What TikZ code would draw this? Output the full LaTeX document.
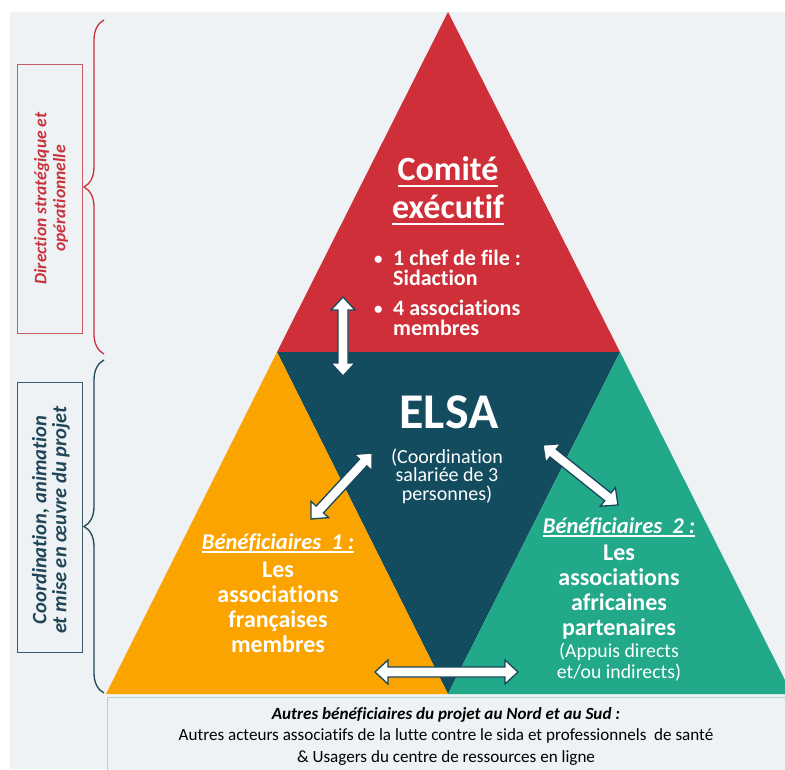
\documentclass[tikz,border=0pt]{standalone}
\usepackage{fontspec}
\setmainfont{Carlito}[Ligatures=NoCommon]
\usetikzlibrary{calc,decorations.pathreplacing}
\definecolor{bgc}{HTML}{EEF2F4}
\definecolor{cred}{HTML}{CF2F38}
\definecolor{corange}{HTML}{FBA400}
\definecolor{cdark}{HTML}{134B5F}
\definecolor{cgreen}{HTML}{21A98A}
\definecolor{labred}{HTML}{C8323B}
\definecolor{labnavy}{HTML}{1F4658}
\definecolor{boxred}{HTML}{CC5C63}
\definecolor{boxnavy}{HTML}{3C5A6A}
\definecolor{boxteal}{HTML}{A6D6CE}
\definecolor{arrline}{HTML}{16475A}
\newsavebox\ulbox
\newcommand\ulined[3]{\sbox\ulbox{#3}\rlap{\rule[-#1]{\wd\ulbox}{#2}}\usebox\ulbox}
\newcommand\sm[1]{\smash{#1}}
\newcommand\bul{\makebox[19pt][l]{\raisebox{1pt}{\fontsize{17}{17}\selectfont •}}}
\newcommand\blockarrow[2]{%
  \coordinate (#1#2ha) at ($(#1)!13pt!(#2)$);
  \coordinate (#1#2hb) at ($(#2)!13pt!(#1)$);
  \draw[arrowsty] (#1) -- ($(#1#2ha)!12pt!90:(#2)$) -- ($(#1#2ha)!5pt!90:(#2)$)
    -- ($(#1#2hb)!5pt!-90:(#1)$) -- ($(#1#2hb)!12pt!-90:(#1)$) -- (#2)
    -- ($(#1#2hb)!12pt!90:(#1)$) -- ($(#1#2hb)!5pt!90:(#1)$)
    -- ($(#1#2ha)!5pt!-90:(#2)$) -- ($(#1#2ha)!12pt!-90:(#2)$) -- cycle;}
\tikzset{
  arrowsty/.style={fill=white, draw=arrline, line width=1.3pt, line join=miter},
  txt/.style={inner sep=0pt, anchor=base, text=white},
  labbox/.style={line width=1pt},
  bracesty/.style={decorate, decoration={brace, amplitude=20pt}, line width=1.3pt},
}
\begin{document}
\begin{tikzpicture}[x=1pt,y=-1pt]
\useasboundingbox (0,0) rectangle (785,769);
\fill[white] (0,0) rectangle (785,769);
\fill[bgc] (10,12) rectangle (785,769);
% vertices
\coordinate (apex) at (448,12);
\coordinate (ml) at (277,352);
\coordinate (mr) at (620,352);
\coordinate (bl) at (106,694);
\coordinate (bm) at (448,694);
\coordinate (br) at (792,694);
\begin{scope}
\clip (0,0) rectangle (785,769);
\fill[cred] (apex) -- (ml) -- (mr) -- cycle;
\fill[cdark] (ml) -- (mr) -- (bm) -- cycle;
\fill[corange] (ml) -- (bl) -- (bm) -- cycle;
\fill[cgreen] (mr) -- (bm) -- (br) -- cycle;
\draw[boxteal, line width=1pt, fill=bgc] (107,697) rectangle (800,800);
\end{scope}
% left labels
\draw[boxred, labbox] (17,64) rectangle (82,333);
\node[rotate=90, text=labred, align=center, font=\bfseries\itshape\fontsize{17.5}{19}\selectfont] (labA) at (51,198.5) {Direction stratégique et\\opérationnelle};
\draw[boxnavy, labbox] (17,382) rectangle (82,652);
\node[rotate=90, text=labnavy, align=center, font=\bfseries\itshape\fontsize{20.5}{20}\selectfont] (labB) at (51,520) {Coordination, animation\\et mise en œuvre du projet};
\coordinate (bAtop) at (104,20);
\coordinate (bAbot) at (104,354);
\coordinate (bBtop) at (104,360);
\coordinate (bBbot) at (104,693);
\draw[bracesty, labred] (bAbot) -- (bAtop);
\draw[bracesty, labnavy] (bBbot) -- (bBtop);
% top triangle text
\node[txt, font=\bfseries\fontsize{34}{38}\selectfont] (comite) at (448,180)
  {\begin{tabular}[t]{@{}c@{}}\sm{\ulined{7pt}{2.2pt}{Comité}}\\\sm{\ulined{7pt}{2.2pt}{exécutif}}\end{tabular}};
\node[txt, anchor=base west, font=\bfseries\fontsize{22}{20}\selectfont] (bullets) at (374,265)
  {\begin{tabular}[t]{@{}l@{}l@{}}\bul&\sm{1 chef de file :}\\&\sm{Sidaction}\\[10pt]\bul&\sm{4 associations}\\&\sm{membres}\end{tabular}};
% ELSA
\node[txt, font=\bfseries\fontsize{50}{50}\selectfont] (elsa) at (449,428) {ELSA};
\node[txt, font=\fontsize{20}{18.5}\selectfont] (elsasub) at (447,463)
  {\begin{tabular}[t]{@{}c@{}}\sm{(Coordination}\\\sm{salariée de 3}\\\sm{personnes)}\end{tabular}};
% Beneficiaires 1
\node[txt, font=\bfseries\itshape\fontsize{22.5}{22}\selectfont] (benA) at (278,549) {\ulined{3.5pt}{1.5pt}{Bénéficiaires\ \ 1 :}};
\node[txt, font=\bfseries\fontsize{24}{25}\selectfont] (benAtxt) at (278,577)
  {\begin{tabular}[t]{@{}c@{}}\sm{Les}\\\sm{associations}\\\sm{françaises}\\\sm{membres}\end{tabular}};
% Beneficiaires 2
\node[txt, font=\bfseries\itshape\fontsize{22.5}{22}\selectfont] (benB) at (619,533) {\ulined{3.5pt}{1.5pt}{Bénéficiaires\ \ 2 :}};
\node[txt, font=\bfseries\fontsize{24}{25}\selectfont] (benBtxt) at (619,560)
  {\begin{tabular}[t]{@{}c@{}}\sm{Les}\\\sm{associations}\\\sm{africaines}\\\sm{partenaires}\end{tabular}};
\node[txt, font=\fontsize{19.8}{21}\selectfont] (benBsub) at (619,657)
  {\begin{tabular}[t]{@{}c@{}}\sm{(Appuis directs}\\\sm{et/ou indirects)}\end{tabular}};
% bottom box text
\node[txt, text=black, font=\fontsize{17.1}{21.5}\selectfont] (autres) at (446,719)
  {\begin{tabular}[t]{@{}c@{}}\sm{\bfseries\itshape Autres bénéficiaires du projet au Nord et au Sud :}\\\sm{Autres acteurs associatifs de la lutte contre le sida et professionnels\ \ de santé}\\\sm{\& Usagers du centre de ressources\ en ligne}\end{tabular}};
% arrows
\coordinate (vt) at (343,297);
\coordinate (vb) at (343,376);
\coordinate (lt) at (372,453);
\coordinate (lb) at (311,519);
\coordinate (rt) at (543,445);
\coordinate (rb) at (618,505);
\coordinate (hl) at (375,672);
\coordinate (hr) at (518,672);
\blockarrow{vt}{vb}
\blockarrow{lt}{lb}
\blockarrow{rt}{rb}
\blockarrow{hl}{hr}
\end{tikzpicture}
\end{document}
